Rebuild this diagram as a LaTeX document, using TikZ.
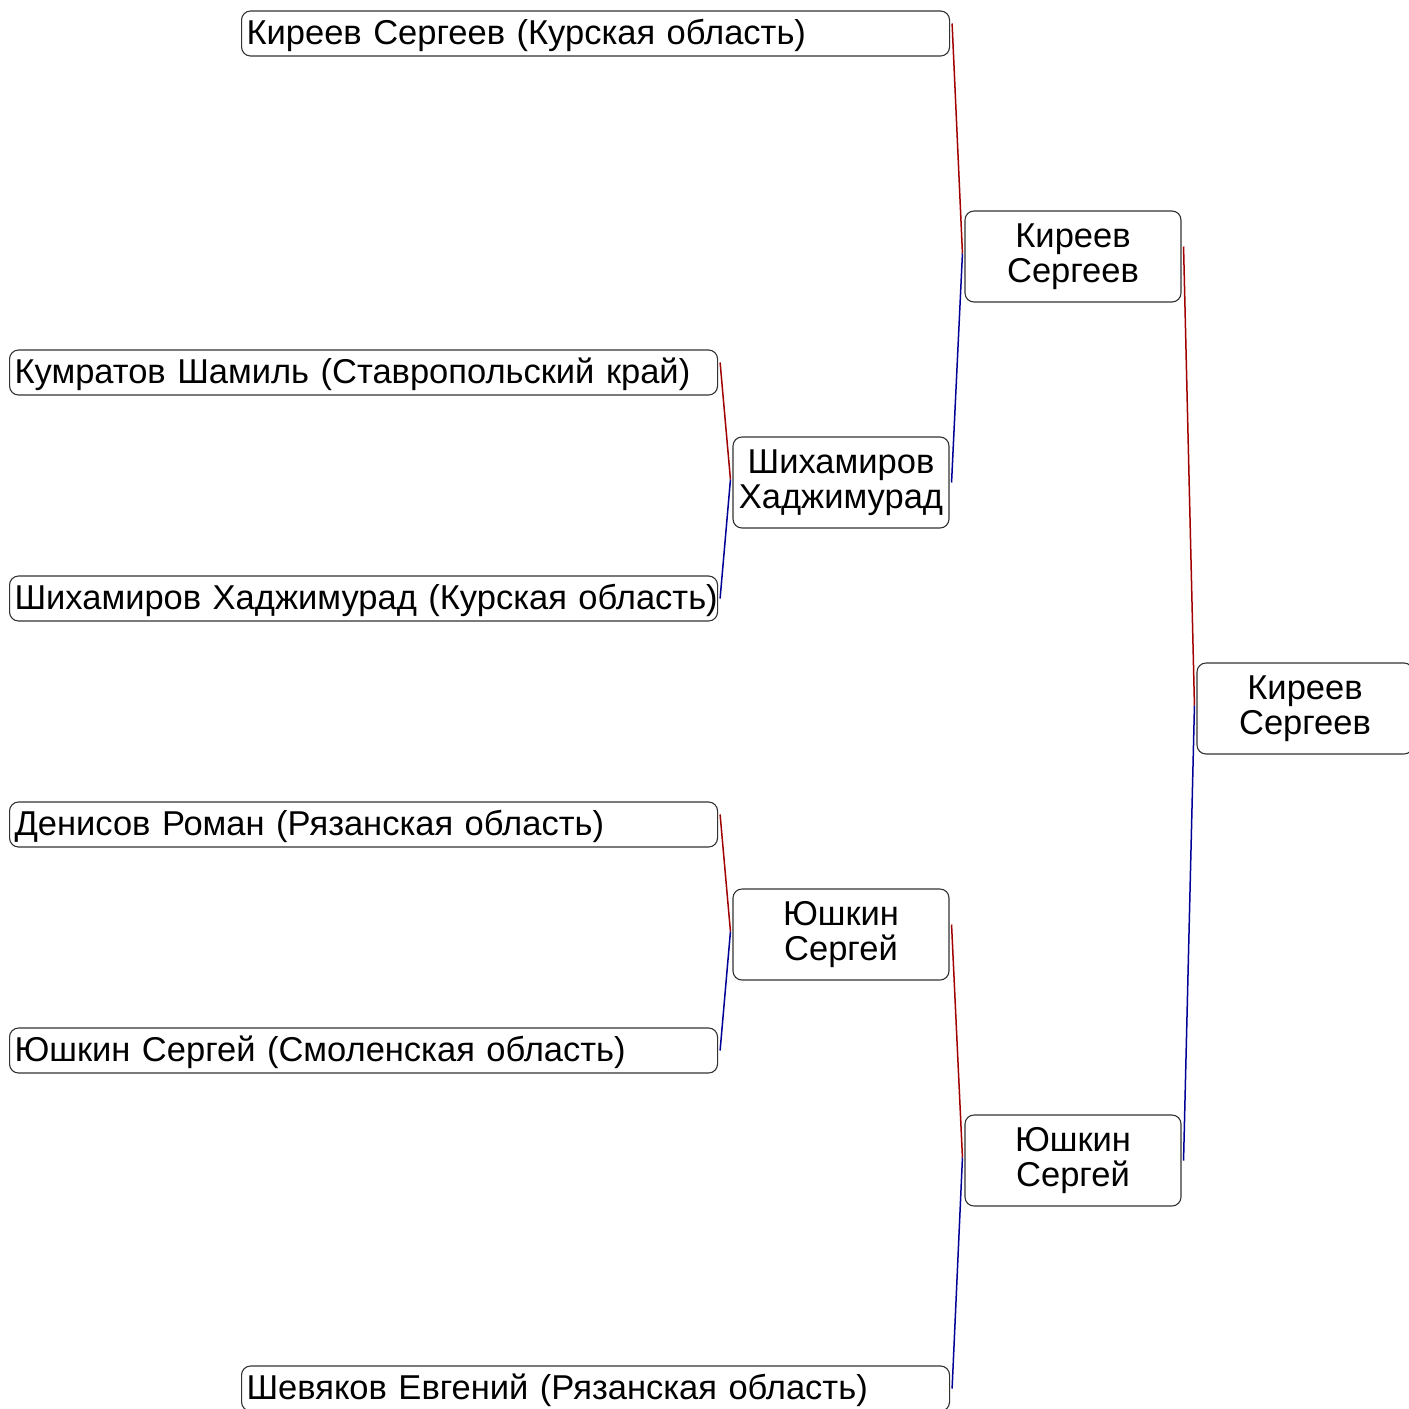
\documentclass[tikz,border=0pt]{standalone}
\usepackage{fontspec}
\setmainfont{Liberation Sans}
\definecolor{winred}{RGB}{160,0,0}
\definecolor{losblue}{RGB}{0,0,150}
\definecolor{boxline}{RGB}{50,50,50}
\tikzset{
    entrant/.style={draw=boxline,line width=1.1pt,rounded corners=9pt,anchor=west,text width=698pt,align=left,inner xsep=5pt,inner ysep=0pt,minimum height=45pt,text height=27pt,text depth=5pt,font=\fontsize{34.5}{35}\selectfont,execute at begin node=\hbox\bgroup,execute at end node=\egroup},
    winner/.style={draw=boxline,line width=1.1pt,rounded corners=9pt,text width=214pt,align=center,inner xsep=1pt,inner ysep=0pt,minimum height=91pt,font=\fontsize{34.5}{35}\selectfont},
    upper/.style={draw=winred,line width=1.5pt},
    lower/.style={draw=losblue,line width=1.5pt}
}

\begin{document}
\begin{tikzpicture}[x=1pt,y=-1pt]
    \useasboundingbox (0,0) rectangle (1409,1409);
    % first round
    \node[entrant] (kir) at (241,33.5) {Киреев Сергеев (Курская область)};
    \node[entrant] (kum) at (9,372.5) {Кумратов Шамиль (Ставропольский край)};
    \node[entrant] (shi) at (9,598.5) {Шихамиров Хаджимурад (Курская область)};
    \node[entrant] (den) at (9,824.5) {Денисов Роман (Рязанская область)};
    \node[entrant] (yus) at (9,1050.5) {Юшкин Сергей (Смоленская область)};
    \node[entrant] (she) at (241,1388.5) {Шевяков Евгений (Рязанская область)};
    % later rounds
    \node[winner] (shiw) at (841,482.5) {Шихамиров\\Хаджимурад};
    \node[winner] (yusw) at (841,934.5) {Юшкин\\Сергей};
    \node[winner] (kirw) at (1073,256.5) {Киреев\\Сергеев};
    \node[winner] (yusf) at (1073,1160.5) {Юшкин\\Сергей};
    \node[winner] (champ) at (1305,708.5) {Киреев\\Сергеев};
    % connectors
    \foreach \a/\b/\t in {kum/shi/shiw, den/yus/yusw, kir/shiw/kirw, yusw/she/yusf, kirw/yusf/champ} {
        \coordinate (m) at ([shift={(-2,-3)}]\t.west);
        \draw[upper] ([shift={(2,-10)}]\a.east) -- (m);
        \draw[lower] (m) -- ([shift={(2,0)}]\b.east);
    }
\end{tikzpicture}
\end{document}
